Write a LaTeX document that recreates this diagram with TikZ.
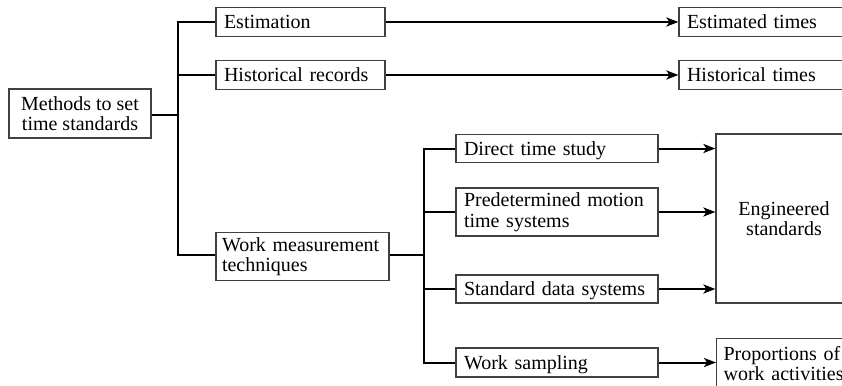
\documentclass[tikz,border=0pt]{standalone}
\usepackage{fontspec}
\setmainfont{Liberation Serif}
\usetikzlibrary{arrows.meta}
\begin{document}
\begin{tikzpicture}[x=1pt,y=-1pt,
  box/.style={draw=black!75, line width=1.2pt, rectangle, inner xsep=0pt, inner ysep=0pt,
    font=\fontsize{20}{20.5}\selectfont},
  lbox/.style={box, align=left},
  one/.style={text height=15pt, text depth=2pt},
  conn/.style={line width=2pt, black},
  arr/.style={conn, -{Stealth[length=12pt,width=9pt,inset=3pt]}}]
\clip (0,0) rectangle (842,385);
\fill[white] (0,0) rectangle (842,385);

\node[box, align=center, minimum width=142pt, minimum height=49pt] (meth) at (80,113.5) {Methods to set\\time standards};
\node[lbox, one, minimum width=169pt, minimum height=29pt, text width=153pt] (est) at (300.5,22) {Estimation};
\node[lbox, one, minimum width=169pt, minimum height=29pt, text width=153pt] (hist) at (300.5,75) {Historical records};
\node[lbox, minimum width=173pt, minimum height=48pt, text width=161pt] (wm) at (302.5,256.5) {Work measurement\\techniques};

\node[lbox, one, minimum width=202pt, minimum height=28pt, text width=186pt] (dts) at (557,148.5) {Direct time study};
\node[lbox, minimum width=202pt, minimum height=48pt, text width=186pt] (pmt) at (557,212) {Predetermined motion\\time systems};
\node[lbox, one, minimum width=202pt, minimum height=28pt, text width=186pt] (sds) at (557,289) {Standard data systems};
\node[lbox, one, minimum width=202pt, minimum height=29pt, text width=186pt] (ws) at (557,362.5) {Work sampling};

\node[lbox, one, minimum width=200pt, minimum height=29pt, text width=184pt] (etimes) at (779,22) {Estimated times};
\node[lbox, one, minimum width=200pt, minimum height=29pt, text width=184pt] (htimes) at (779,75) {Historical times};
\node[box, align=center, minimum width=136pt, minimum height=169pt] (eng) at (784,218.5) {Engineered\\standards};
\node[lbox, minimum width=160pt, minimum height=50pt, text width=146pt, anchor=north west] (prop) at (716,338) {Proportions of\\work activities};

\coordinate (j1) at (178,115);
\coordinate (j2) at (424,255);

\draw[conn] (meth.east |- j1) -- (j1);
\draw[conn] (est.west) -| (j1) |- (j2 -| wm.west);
\draw[conn] (hist.west) -- (hist.west -| j1);
\draw[conn] (wm.east |- j2) -- (j2);
\draw[conn] (dts.west) -| (j2) |- (ws.west);
\draw[conn] (pmt.west) -- (pmt.west -| j2);
\draw[conn] (sds.west) -- (sds.west -| j2);

\draw[arr] (est.east) -- (etimes.west);
\draw[arr] (hist.east) -- (htimes.west);
\draw[arr] (dts.east) -- (dts.east -| eng.west);
\draw[arr] (pmt.east) -- (pmt.east -| eng.west);
\draw[arr] (sds.east) -- (sds.east -| eng.west);
\draw[arr] (ws.east) -- (ws.east -| prop.west);
\end{tikzpicture}
\end{document}
